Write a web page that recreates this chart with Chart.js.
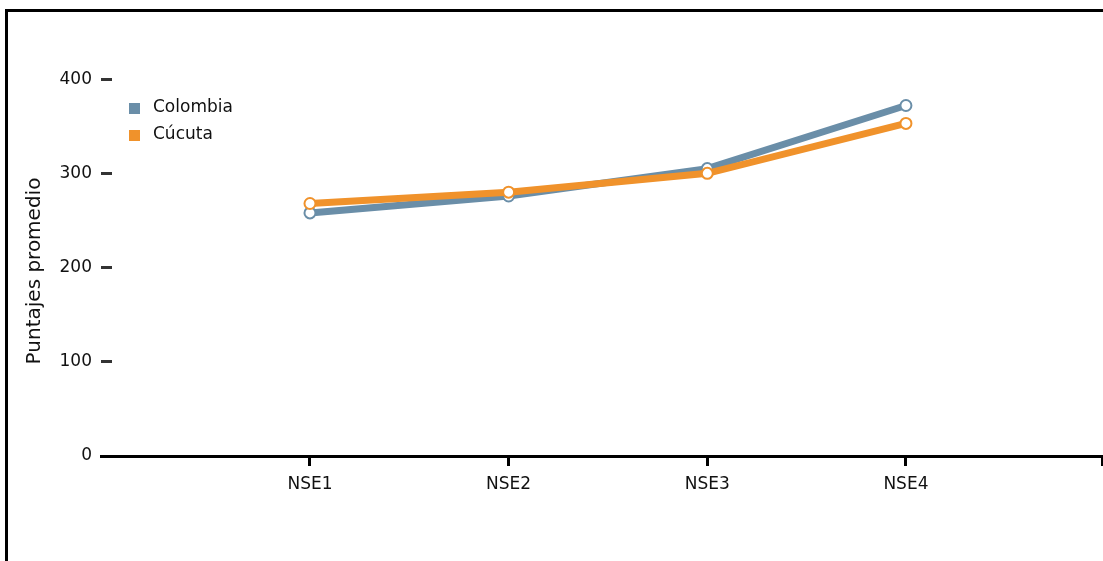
<!DOCTYPE html>
<html>
<head>
<meta charset="utf-8">
<script src="https://cdn.jsdelivr.net/npm/chart.js@4/dist/chart.umd.min.js"></script>
<style>
  body { margin: 0; background: #fff; }
  #grafico { display: block; }
</style>
</head>
<body>
<canvas id="grafico" width="1103" height="561"></canvas>
<script>
// datos
var categorias = ["NSE1", "NSE2", "NSE3", "NSE4"];
var colombia = [258, 276, 305, 372];
var cucuta = [268, 280, 300, 353];
var ticksY = [0, 100, 200, 300, 400];
var tituloY = "Puntajes promedio";

var fuente = "'DejaVu Sans', sans-serif";

function puntos(valores) {
  return valores.map(function (v, i) { return { x: i + 1, y: v }; });
}

// marco, titulo del eje y y leyenda
var extras = {
  id: 'extras',
  afterDraw: function (chart) {
    var ctx = chart.ctx;
    ctx.save();
    ctx.strokeStyle = '#000';
    ctx.lineWidth = 3;
    ctx.beginPath();
    ctx.moveTo(5, 10.5);
    ctx.lineTo(1103, 10.5);
    ctx.moveTo(6.5, 9);
    ctx.lineTo(6.5, 561);
    ctx.stroke();

    ctx.fillStyle = '#111';
    ctx.font = "20px " + fuente;
    ctx.textAlign = 'center';
    ctx.textBaseline = 'middle';
    ctx.translate(35, 271);
    ctx.rotate(-Math.PI / 2);
    ctx.fillText(tituloY, 0, 0);
    ctx.restore();

    ctx.save();
    ctx.font = "17px " + fuente;
    ctx.textBaseline = 'middle';
    ctx.textAlign = 'left';
    chart.data.datasets.forEach(function (ds, i) {
      var y = 108 + i * 27;
      ctx.fillStyle = ds.borderColor;
      ctx.fillRect(129, y - 5, 11, 11);
      ctx.fillStyle = '#111';
      ctx.fillText(ds.label, 153, y);
    });
    ctx.restore();
  }
};

var grafico = new Chart(document.getElementById('grafico'), {
  type: 'line',
  data: {
    datasets: [{
      label: 'Colombia',
      data: puntos(colombia),
      borderColor: '#6a8ea8',
      backgroundColor: '#ffffff',
      borderWidth: 7,
      pointRadius: 5.5,
      pointBorderWidth: 2,
      order: 1
    }, {
      label: 'Cúcuta',
      data: puntos(cucuta),
      borderColor: '#f0922b',
      backgroundColor: '#ffffff',
      borderWidth: 7,
      pointRadius: 5.5,
      pointBorderWidth: 2,
      order: 0
    }]
  },
  options: {
    responsive: false,
    animation: false,
    layout: { autoPadding: false, padding: { top: 32, right: 1, left: 0, bottom: 0 } },
    plugins: {
      legend: { display: false },
      tooltip: { enabled: false }
    },
    scales: {
      x: {
        type: 'linear',
        min: -0.052,
        max: 4.987,
        afterBuildTicks: function (scale) {
          scale.ticks = categorias.map(function (c, i) { return { value: i + 1 }; });
          scale.ticks.push({ value: scale.max });
        },
        afterFit: function (scale) {
          scale.height = 105;
          scale.paddingRight = 0;
          scale.paddingLeft = 0;
        },
        grid: {
          drawOnChartArea: false,
          drawTicks: true,
          tickLength: 10,
          tickWidth: 3,
          tickColor: '#000'
        },
        border: { display: true, color: '#000', width: 3 },
        ticks: {
          autoSkip: false,
          maxRotation: 0,
          padding: 8,
          color: '#111',
          font: { family: fuente, size: 17 },
          callback: function (value) {
            return categorias[value - 1] || '';
          }
        }
      },
      y: {
        min: 0,
        max: 450,
        afterBuildTicks: function (scale) {
          scale.ticks = ticksY.map(function (v) { return { value: v }; });
        },
        afterFit: function (scale) { scale.width = 101; },
        grid: {
          drawOnChartArea: false,
          drawTicks: true,
          tickLength: -11,
          tickWidth: 3,
          tickColor: '#333'
        },
        border: { display: false },
        ticks: {
          padding: 20,
          color: '#111',
          font: { family: fuente, size: 17 }
        }
      }
    }
  },
  plugins: [extras]
});
</script>
</body>
</html>
